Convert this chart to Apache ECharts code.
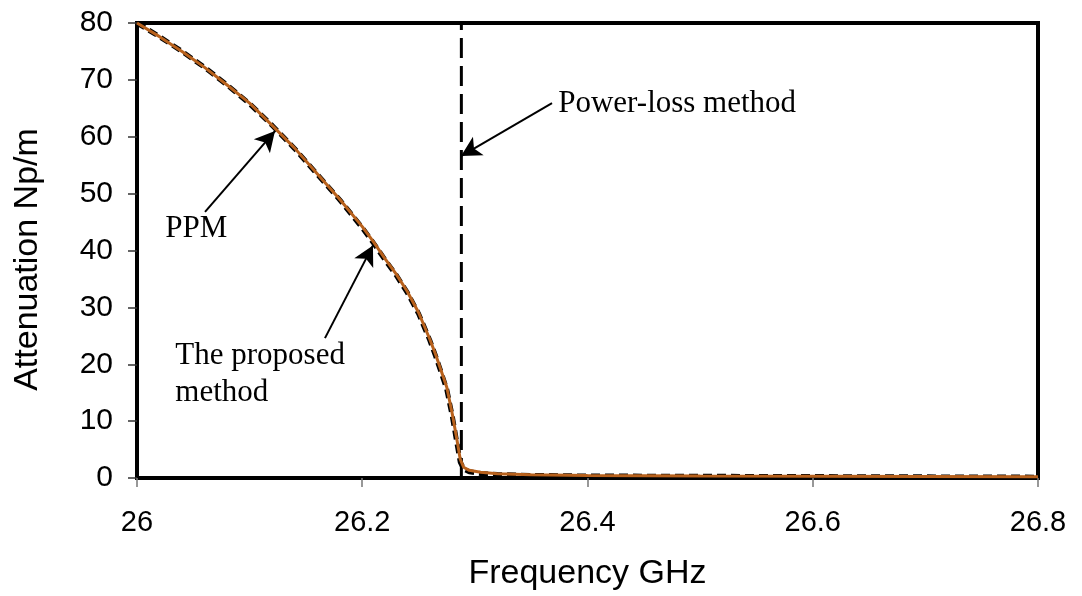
<!DOCTYPE html>
<html>
<head>
<meta charset="utf-8">
<script src="https://cdn.jsdelivr.net/npm/echarts@6/dist/echarts.min.js"></script>
<style>
html,body{margin:0;padding:0;background:#fff;}
#chart{width:1082px;height:596px;}
</style>
</head>
<body>
<div id="chart"></div>
<script>
// Frequency (GHz) samples
const freq = [26.000, 26.020, 26.040, 26.060, 26.080, 26.100, 26.120, 26.140, 26.160, 26.180,
              26.200, 26.210, 26.220, 26.230, 26.240, 26.250, 26.260, 26.265, 26.270, 26.275,
              26.280, 26.284, 26.287, 26.290, 26.295, 26.305, 26.320, 26.350, 26.400, 26.500,
              26.600, 26.700, 26.800];
// PPM attenuation (Np/m)
const ppm = [80.0, 77.6, 75.0, 72.2, 69.1, 65.8, 62.0, 57.9, 53.4, 48.9,
             44.0, 41.3, 38.4, 35.7, 32.6, 28.9, 24.2, 21.5, 18.6, 15.6,
             10.8, 6.2, 2.8, 1.6, 1.1, 0.8, 0.6, 0.45, 0.35, 0.3,
             0.25, 0.2, 0.15];
// Proposed method attenuation (Np/m)
const proposed = [80.0, 77.6, 75.0, 72.2, 69.1, 65.9, 62.0, 58.0, 53.5, 49.0,
                  44.2, 41.5, 38.6, 35.9, 32.8, 29.1, 24.4, 21.8, 18.9, 16.0,
                  11.2, 6.8, 3.3, 1.9, 1.35, 1.0, 0.75, 0.55, 0.45, 0.35,
                  0.3, 0.25, 0.2];
// Power-loss method cutoff (vertical line)
const powerLossFreq = 26.288;
const powerLossRange = [0, 80];

const xTicks = [26, 26.2, 26.4, 26.6, 26.8];
const yTicks = [0, 10, 20, 30, 40, 50, 60, 70, 80];

// Annotation texts and their anchors (data coordinates)
const labelTexts = ['Power-loss method', 'PPM', 'The proposed\nmethod'];
const labelAnchors = [[26.374, 65.7], [26.025, 43.8], [26.034, 18.3]];
// Arrows: [tail, head] in data coordinates
const arrows = [
  [[26.3685, 65.9], [26.2877, 56.6]],
  [[26.0604, 46.8], [26.1225, 61.0]],
  [[26.1669, 24.6], [26.2095, 40.9]]
];

const chart = echarts.init(document.getElementById('chart'), null, {renderer: 'canvas'});

const option = {
  animation: false,
  backgroundColor: '#fff',
  grid: {left: 137, right: 44, top: 23, bottom: 110, show: true, borderColor: '#000', borderWidth: 4, backgroundColor: 'transparent'},
  xAxis: {
    type: 'value', min: xTicks[0], max: xTicks[xTicks.length - 1], interval: 0.2,
    name: 'Frequency GHz', nameLocation: 'middle', nameGap: 79,
    nameTextStyle: {fontFamily: 'Liberation Sans', fontSize: 34, color: '#000'},
    axisLine: {show: true, lineStyle: {color: '#000', width: 4}},
    axisTick: {show: true, inside: false, length: 9, lineStyle: {color: '#777', width: 1.5}},
    axisLabel: {fontFamily: 'Liberation Sans', fontSize: 29, color: '#000', margin: 30,
      formatter: v => String(parseFloat(Number(v).toFixed(1)))},
    splitLine: {show: false}
  },
  yAxis: {
    type: 'value', min: yTicks[0], max: yTicks[yTicks.length - 1], interval: 10,
    name: 'Attenuation Np/m', nameLocation: 'middle', nameGap: 92,
    nameTextStyle: {fontFamily: 'Liberation Sans', fontSize: 34, color: '#000', padding: [0, 18, 0, 0]},
    axisLine: {show: true, lineStyle: {color: '#000', width: 4}},
    axisTick: {show: true, inside: false, length: 9, lineStyle: {color: '#333', width: 1.5}},
    axisLabel: {fontFamily: 'Liberation Sans', fontSize: 30, color: '#000', margin: 24},
    splitLine: {show: false}
  },
  series: [
    {
      name: 'Power-loss method', type: 'line', symbol: 'none', silent: true,
      data: powerLossRange.map(v => [powerLossFreq, v]),
      lineStyle: {color: '#000', width: 3, type: [20, 8]}
    },
    {
      name: 'PPM', type: 'line', symbol: 'none', silent: true,
      data: freq.map((f, i) => [f, ppm[i]]),
      lineStyle: {color: '#000', width: 5, type: [9, 5]}
    },
    {
      name: 'The proposed method', type: 'line', symbol: 'none', silent: true,
      data: freq.map((f, i) => [f, proposed[i]]),
      lineStyle: {color: '#b8611c', width: 3},
      markLine: {
        silent: true, animation: false,
        symbol: ['none', 'arrow'], symbolSize: 18,
        label: {show: false},
        lineStyle: {color: '#000', width: 2, type: 'solid'},
        data: arrows.map(a => [
          {coord: a[0], symbol: 'none'},
          {coord: a[1], symbol: 'arrow', symbolSize: [16, 20]}
        ])
      }
    }
  ]
};
chart.setOption(option);

const graphics = labelTexts.map((t, i) => {
  const p = chart.convertToPixel({gridIndex: 0}, labelAnchors[i]);
  return {
    type: 'text', x: p[0], y: p[1], silent: true,
    style: {text: t, fontFamily: 'Liberation Serif', fontSize: 31, lineHeight: 37,
      fill: '#000', align: 'left', verticalAlign: 'middle'}
  };
});
chart.setOption({graphic: graphics});
</script>
</body>
</html>
